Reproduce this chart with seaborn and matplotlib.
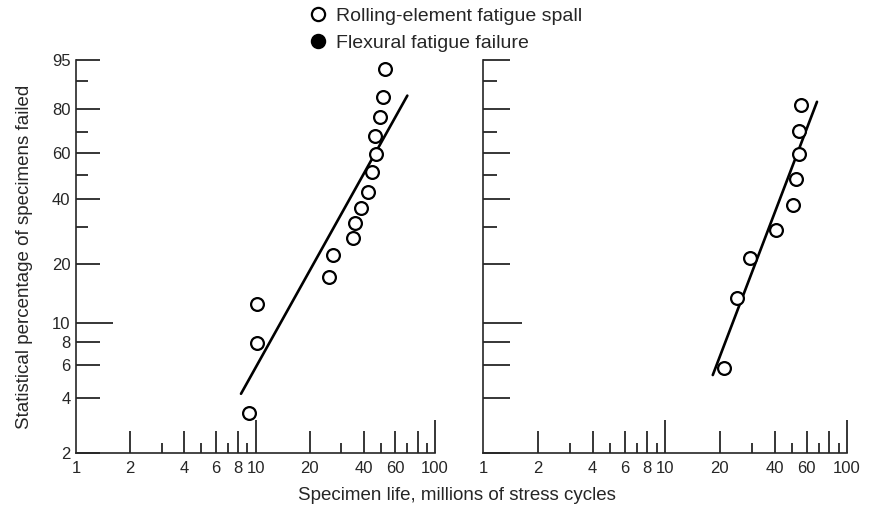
import numpy as np
import matplotlib
matplotlib.use('Agg')
import matplotlib.pyplot as plt
from matplotlib.lines import Line2D
from matplotlib.ticker import NullFormatter
import seaborn as sns

# values: life in millions of stress cycles, percent failed
left_life = [52.6, 51.5, 49.4, 46.3, 46.9, 44.7, 42.5, 38.6, 35.8, 34.8, 26.9, 25.8, 10.2, 10.2, 9.2]
left_pct = [93.1, 84.7, 76.7, 68.0, 59.6, 51.5, 42.9, 36.5, 31.3, 26.8, 22.2, 17.3, 12.6, 7.9, 3.3]
left_fit_life = [8.3, 70.1]
left_fit_pct = [4.2, 85.1]

right_life = [55.7, 54.7, 54.5, 52.5, 50.3, 40.7, 29.3, 24.8, 21.1]
right_pct = [81.5, 70.3, 59.5, 48.1, 37.7, 29.1, 21.5, 13.5, 5.8]
right_fit_life = [18.3, 68.4]
right_fit_pct = [5.3, 82.8]

x_major = [1, 2, 4, 6, 8, 10, 20, 40, 60, 80, 100]
x_labels = ['1', '2', '4', '6', '8', '10', '20', '40', '60', '', '100']
x_minor = [3, 5, 7, 9, 30, 50, 70, 90]
y_major = [2, 4, 6, 8, 10, 20, 40, 60, 80, 95]
y_labels = ['2', '4', '6', '8', '10', '20', '40', '60', '80', '95']
y_minor = [30, 50, 70, 90]

legend_labels = ['Rolling-element fatigue spall', 'Flexural fatigue failure']


# Weibull probability scale
def weibull(p):
    p = np.asarray(p, dtype=float)
    with np.errstate(all='ignore'):
        return np.log(-np.log(1 - p / 100))


def weibull_inv(w):
    w = np.asarray(w, dtype=float)
    with np.errstate(all='ignore'):
        return 100 * (1 - np.exp(-np.exp(w)))


sns.set_style('ticks')
plt.rcParams['font.family'] = ['Liberation Sans', 'DejaVu Sans']
plt.rcParams['axes.linewidth'] = 1.2

fig = plt.figure(figsize=(8.69, 5.14), dpi=100)
ax1 = fig.add_axes([0.0875, 0.1187, 0.4131, 0.7646])
ax2 = fig.add_axes([0.5558, 0.1187, 0.4189, 0.7646])


def draw_panel(ax, life, pct, fit_life, fit_pct, show_ylabels, ylens):
    ax.set_xscale('log')
    ax.set_yscale('function', functions=(weibull, weibull_inv))
    sns.lineplot(x=fit_life, y=fit_pct, ax=ax, color='black', lw=1.9)
    sns.scatterplot(x=life, y=pct, ax=ax, marker='o', s=85, facecolor='white',
                    edgecolor='black', linewidth=1.6, zorder=3)
    ax.set_xlim(1, 100)
    ax.set_ylim(2, 95)
    sns.despine(ax=ax)

    ax.tick_params(which='both', direction='in', width=1.1, color='black',
                   labelsize=12, top=False, right=False)
    ax.tick_params(axis='x', which='major', length=15.8, pad=6)
    ax.tick_params(axis='x', which='minor', length=7.2)
    ax.tick_params(axis='y', which='major', length=ylens[0], pad=4)
    ax.tick_params(axis='y', which='minor', length=ylens[1])

    ax.set_xticks(x_major, labels=x_labels)
    ax.set_xticks(x_minor, minor=True)
    ax.xaxis.set_minor_formatter(NullFormatter())
    if show_ylabels:
        ax.set_yticks(y_major, labels=y_labels)
    else:
        ax.set_yticks(y_major, labels=[''] * len(y_major))
    ax.set_yticks(y_minor, minor=True)
    ax.yaxis.set_minor_formatter(NullFormatter())

    # the 10 and 100 spikes are longer, no spike at the corner
    for t, v in zip(ax.xaxis.get_major_ticks(), x_major):
        if v == 1:
            t.tick1line.set_visible(False)
        elif v in (10, 100):
            t.tick1line.set_markersize(24)
    for t, v in zip(ax.yaxis.get_major_ticks(), y_major):
        if v == 10:
            t.tick1line.set_markersize(ylens[2])

    ax.set_xlabel('')
    ax.set_ylabel('')


draw_panel(ax1, left_life, left_pct, left_fit_life, left_fit_pct, True, (17.3, 8.6, 26.6))
draw_panel(ax2, right_life, right_pct, right_fit_life, right_fit_pct, False, (19.4, 10.0, 28.0))

ax1.set_ylabel('Statistical percentage of specimens failed', fontsize=13.5)
ax1.yaxis.set_label_coords(-0.119, 0.5)
fig.text(0.526, 1 - 495 / 514, 'Specimen life, millions of stress cycles',
         ha='center', va='center', fontsize=13.5)

handles = [
    Line2D([], [], marker='o', ls='none', mfc='white', mec='black', ms=9.5, mew=1.6),
    Line2D([], [], marker='o', ls='none', mfc='black', mec='black', ms=9.5, mew=1.6),
]
fig.legend(handles, legend_labels, loc='upper left', bbox_to_anchor=(308 / 869, 1 - 7 / 514),
           frameon=False, fontsize=14, handlelength=1.0, handletextpad=0.45,
           labelspacing=0.5, borderpad=0, borderaxespad=0)

fig.savefig('out.png', dpi=100)
